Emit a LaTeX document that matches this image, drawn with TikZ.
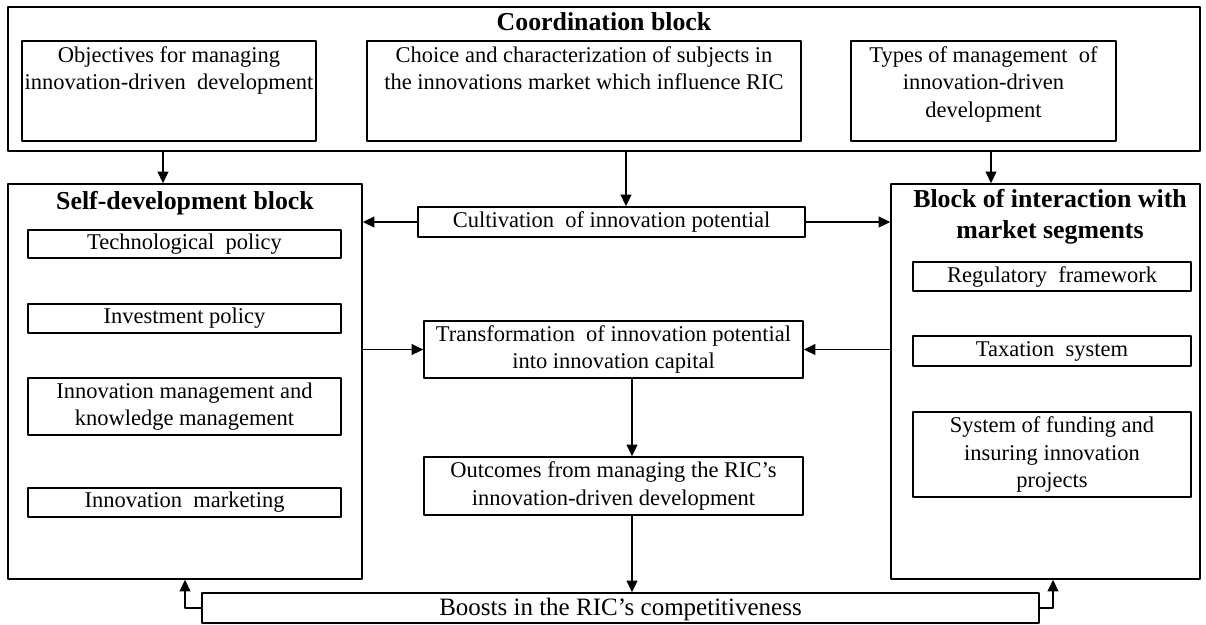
\documentclass[tikz,border=0pt]{standalone}
\usepackage{fontspec}
\setmainfont{Liberation Serif}
\usetikzlibrary{fit,arrows.meta}
\tikzset{
  blk/.style={draw, inner sep=0pt},
  txt/.style={align=center, inner sep=0pt},
  head/.style={font=\fontsize{15.5}{18.5}\selectfont\bfseries, align=center},
}
\begin{document}
\begin{tikzpicture}[x=0.6pt, y=-0.6pt, font=\fontsize{13.5}{16.5}\selectfont, line width=0.9pt, line join=round, >={Triangle[length=7pt,width=6.5pt]}]
  \useasboundingbox (0,0) rectangle (1206,624);
  % coordination block
  \node[blk, fit={(8,7) (1200,151)}] (coord) {};
  \node[head] (coordtitle) at (604,22) {Coordination block};
  \node[blk, fit={(22,41) (316,141)}] (obj) {};
  \node[blk, fit={(367,41) (801,141)}] (choice) {};
  \node[blk, fit={(851,41) (1116,141)}] (types) {};
  \node[below, align=center] (objtext) at (obj.north) {Objectives for managing\\innovation-driven\ \ development};
  \node[below, align=center] (choicetext) at (choice.north) {Choice and characterization of subjects in\\the innovations market which influence RIC};
  \node[below, align=center] (typestext) at (types.north) {Types of management\ \ of\\innovation-driven\\development};
  % self-development block
  \node[blk, fit={(8,184) (362,579)}] (self) {};
  \node[head] (selftitle) at (185,203) {Self-development block};
  \node[blk, fit={(28,230) (341,258)}, label={[txt]center:Technological\ \ policy}] (tech) {};
  \node[blk, fit={(28,304) (341,333)}, label={[txt]center:Investment policy}] (invest) {};
  \node[blk, fit={(28,378) (341,435)}, label={[txt]center:{Innovation management and\\knowledge management}}] (knowl) {};
  \node[blk, fit={(28,488) (341,517)}, label={[txt]center:Innovation\ \ marketing}] (market) {};
  % block of interaction
  \node[blk, fit={(891,184) (1200,579)}] (inter) {};
  \node[head] (intertitle) at (1050,217) {Block of interaction with\\market segments};
  \node[blk, fit={(913,262) (1191,291)}, label={[txt]center:Regulatory\ \ framework}] (regul) {};
  \node[blk, fit={(913,336) (1191,366)}, label={[txt]center:Taxation\ \ system}] (tax) {};
  \node[blk, fit={(913,412) (1191,497)}, label={[txt]center:{System of funding and\\insuring innovation\\projects}}] (fund) {};
  % middle column
  \node[blk, fit={(418,207) (805,237)}, label={[txt]center:Cultivation\ \ of innovation potential}] (cult) {};
  \node[blk, fit={(424,321) (803,378)}, label={[txt]center:{Transformation\ \ of innovation potential\\into innovation capital}}] (trans) {};
  \node[blk, fit={(424,457) (803,515)}, label={[txt]center:{Outcomes from managing the RIC's\\innovation-driven development}}] (outc) {};
  \node[blk, fit={(202,593) (1039,623)}, label={[txt, font=\fontsize{15}{18}\selectfont, yshift=-1pt]center:Boosts in the RIC's competitiveness}] (boost) {};
  \coordinate (colA) at (163,0);
  \coordinate (colB) at (626,0);
  \coordinate (colC) at (991,0);
  \coordinate (colD) at (632,0);
  \coordinate (colE) at (1053,0);
  \draw[->] (coord.south -| colA) -- (self.north -| colA);
  \draw[->] (coord.south -| colB) -- (cult.north -| colB);
  \draw[->] (coord.south -| colC) -- (inter.north -| colC);
  \draw[->] (cult.west) -- (cult.west -| self.east);
  \draw[->] (cult.east) -- (cult.east -| inter.west);
  \draw[->] (trans.west -| self.east) -- (trans.west);
  \draw[->] (trans.east -| inter.west) -- (trans.east);
  \draw[->] (trans.south -| colD) -- (outc.north -| colD);
  \draw[->] (outc.south -| colD) -- (boost.north -| colD);
  \draw[->] (boost.west) -| (self.south);
  \draw[->] (boost.east) -| (inter.south -| colE);
\end{tikzpicture}
\end{document}
